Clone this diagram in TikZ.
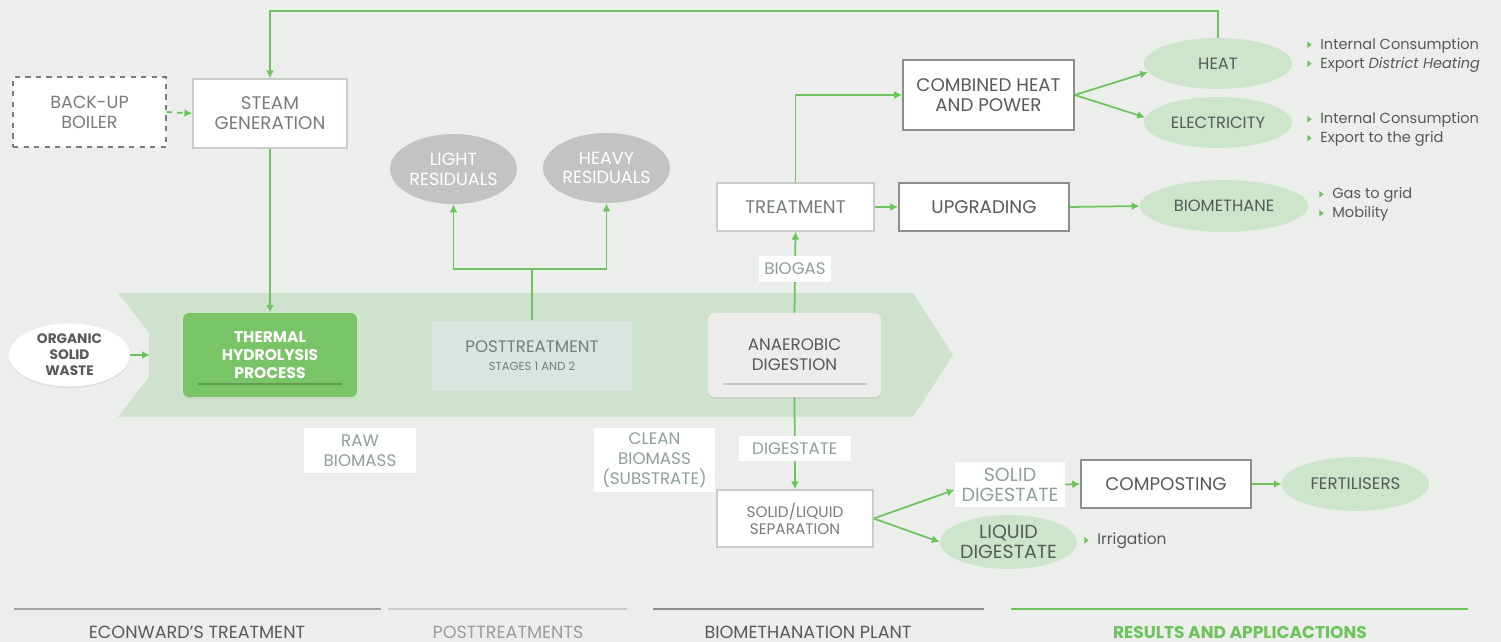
\documentclass[tikz,border=0pt]{standalone}
\usepackage{fontspec}
\setmainfont{Poppins}
\usetikzlibrary{positioning,arrows.meta,shapes.geometric,shadows}
\definecolor{bgcol}{HTML}{ECEEEB}
\definecolor{bandcol}{HTML}{CFE2CD}
\definecolor{thpcol}{HTML}{79C466}
\definecolor{thpline}{HTML}{5E9E50}
\definecolor{linkcol}{HTML}{6DC35C}
\definecolor{resgrey}{HTML}{C2C3C2}
\definecolor{outcol}{HTML}{CDE5CA}
\definecolor{txtdark}{HTML}{555B5A}
\definecolor{txtmid}{HTML}{767D7B}
\definecolor{tagcol}{HTML}{8FA097}
\definecolor{boxdark}{HTML}{8A8F8E}
\definecolor{boxlight}{HTML}{C9CBC9}
\definecolor{postcol}{HTML}{DCE4DF}
\definecolor{adcol}{HTML}{EDECEA}
\tikzset{
    >={Latex[length=4.5pt,width=4.5pt]},
    every node/.style={font=\fontsize{9.5}{11.3}\selectfont, align=center, inner sep=0pt}
}
\newcommand\bul{\tikz[baseline=0pt]\fill[linkcol] (0,0.6pt) -- (0,4.4pt) -- (2.4pt,2.5pt) -- cycle;\hspace{5pt}}

\begin{document}
\begin{tikzpicture}[x=0.02cm, y=-0.02cm,
  link/.style={->, draw=linkcol, line width=1pt},
  lightbox/.style={rectangle, draw=boxlight, fill=white, line width=0.8pt, text=txtmid, font=\fontsize{10.4}{11.3}\selectfont},
  darkbox/.style={rectangle, draw=boxdark, fill=white, line width=1pt, text=txtdark, font=\fontsize{10.4}{11.3}\selectfont},
  tag/.style={rectangle, fill=white, text=tagcol},
  residue/.style={ellipse, fill=resgrey, text=white, font=\fontsize{10}{11.3}\selectfont},
  product/.style={ellipse, fill=outcol, text=txtdark, font=\fontsize{9.3}{11}\selectfont},
  bullets/.style={anchor=west, align=left, text=txtdark, font=\fontsize{8.3}{10.8}\selectfont},
  phase/.style={font=\fontsize{10}{11}\selectfont}
]
  % background and process band
  \fill[bgcol] (0,0) rectangle (1501,642);
  \fill[bandcol] (118,293) -- (913,293) -- (953,355) -- (913,417) -- (118,417) -- (149,377) -- (149,333) -- cycle;

  % steam side
  \node[rectangle, draw=txtmid, dashed, line width=0.8pt, fill=white, text=txtmid, minimum width=3.06cm, minimum height=1.4cm, font=\fontsize{10}{11.3}\selectfont] (boiler) at (89.5,112) {BACK-UP\\BOILER};
  \node[lightbox, minimum width=3.08cm, minimum height=1.38cm] (steam) at (270,113.5) {STEAM\\GENERATION};

  % main line
  \node[ellipse, fill=white, text=txtdark, minimum width=2.42cm, minimum height=1.26cm, drop shadow={opacity=0.12, shadow xshift=0pt, shadow yshift=-1pt}, font=\fontsize{7.8}{9.2}\selectfont\bfseries] (waste) at (69.5,355) {ORGANIC\\SOLID\\WASTE};
  \coordinate (bandin) at (150,355);
  \node[rectangle, rounded corners=3.5pt, fill=thpcol, text=white, minimum width=3.48cm, minimum height=1.68cm, drop shadow={opacity=0.12, shadow xshift=0pt, shadow yshift=-1pt}, font=\fontsize{8.8}{10.4}\selectfont\bfseries] (thp) at (270,355) {THERMAL\\HYDROLYSIS\\PROCESS};
  \draw[thpline, line width=0.8pt] (198,384) -- (342,384);
  \node[rectangle, fill=postcol, text=txtmid, minimum width=4cm, minimum height=1.42cm] (post) at (532,356) {POSTTREATMENT\\[-1pt]{\fontsize{6.6}{8}\selectfont STAGES 1 AND 2}};
  \node[rectangle, rounded corners=3.5pt, fill=adcol, text=txtdark, minimum width=3.46cm, minimum height=1.68cm, drop shadow={opacity=0.12, shadow xshift=0pt, shadow yshift=-1pt}] (ad) at (794.5,355) {ANAEROBIC\\DIGESTION};
  \draw[boxlight, line width=0.6pt] (723,384) -- (867,384);

  % residuals
  \node[residue, minimum width=2.54cm, minimum height=1.4cm] (light) at (453.5,169) {LIGHT\\RESIDUALS};
  \node[residue, minimum width=2.54cm, minimum height=1.4cm] (heavy) at (606.5,168) {HEAVY\\RESIDUALS};

  % biogas route
  \node[lightbox, minimum width=3.14cm, minimum height=0.96cm] (treat) at (795.5,207) {TREATMENT};
  \node[darkbox, minimum width=3.4cm, minimum height=0.96cm] (upgr) at (984,207) {UPGRADING};
  \node[darkbox, minimum width=3.42cm, minimum height=1.4cm] (chp) at (988.5,95) {COMBINED HEAT\\AND POWER};
  \node[product, minimum width=2.96cm, minimum height=1.02cm] (heat) at (1218,63.5) {HEAT};
  \node[product, minimum width=2.96cm, minimum height=1.02cm] (elec) at (1218,122.5) {ELECTRICITY};
  \node[product, minimum width=3.36cm, minimum height=1.04cm] (biometh) at (1224,206) {BIOMETHANE};
  \node[bullets] (heatuse) at (1307,55) {\bul Internal Consumption\\\bul Export \textit{District Heating}};
  \node[bullets] (elecuse) at (1307,129.5) {\bul Internal Consumption\\\bul Export to the grid};
  \node[bullets] (methuse) at (1319,204.5) {\bul Gas to grid\\\bul Mobility};

  % digestate route
  \node[tag, minimum width=2.24cm, minimum height=0.9cm] (raw) at (360,450.5) {RAW\\BIOMASS};
  \node[tag, minimum width=2.42cm, minimum height=1.28cm] (clean) at (654.5,460) {CLEAN\\BIOMASS\\(SUBSTRATE)};
  \node[lightbox, minimum width=3.12cm, minimum height=1.14cm, font=\fontsize{8.7}{9.6}\selectfont] (sep) at (795,518.5) {SOLID/LIQUID\\SEPARATION};
  \node[tag, minimum width=2.2cm, minimum height=0.9cm, font=\fontsize{10.8}{11.3}\selectfont] (soliddig) at (1010,484.5) {SOLID\\DIGESTATE};
  \node[product, minimum width=2.7cm, minimum height=1.08cm, font=\fontsize{10.8}{11.3}\selectfont] (liqdig) at (1008.5,542) {LIQUID\\DIGESTATE};
  \node[darkbox, minimum width=3.4cm, minimum height=0.96cm] (compost) at (1166,484) {COMPOSTING};
  \node[product, minimum width=2.94cm, minimum height=1.08cm, font=\fontsize{9.5}{11}\selectfont] (fert) at (1355.5,484) {FERTILISERS};
  \node[bullets, font=\fontsize{8.8}{10.8}\selectfont] (irrig) at (1084,541) {\bul Irrigation};

  % connectors
  \coordinate (topbend) at (270,11);
  \draw[link] (heat.north) |- (topbend) -- (steam.north);
  \draw[link, dashed] (boiler.east) -- (steam.west);
  \draw[link] (steam.south) -- (thp.north);
  \draw[link] (waste.east) -- (bandin);
  \draw[link] (post.north) -- ++(0,-51) -| (light.south);
  \draw[link] (post.north) -- ++(0,-51) -| (heavy.south);
  \draw[link] (ad.north) -- node[tag, pos=0.54, minimum width=1.44cm, minimum height=0.52cm] (biogas) {BIOGAS} (treat.south);
  \draw[link] (treat.north) |- (chp.west);
  \draw[link] (treat.east) -- (upgr.west);
  \draw[link] (chp.east) -- (heat.187);
  \draw[link] (chp.east) -- (elec.176);
  \draw[link] (upgr.east) -- (biometh.west);
  \draw[link] (ad.south) -- node[tag, pos=0.56, minimum width=2.24cm, minimum height=0.5cm] (digest) {DIGESTATE} (sep.north);
  \draw[link] (sep.east) -- ([yshift=-3pt]soliddig.west);
  \draw[link] (sep.east) -- (liqdig.west);
  \draw[link] (soliddig.east) -- (compost.west);
  \draw[link] (compost.east) -- (fert.west);

  % phases
  \draw[line width=1pt, draw=boxdark!80] (14,609) -- (381,609);
  \draw[line width=1pt, draw=boxlight] (388,609) -- (627,609);
  \draw[line width=1pt, draw=boxdark] (653,609) -- (984,609);
  \draw[line width=1pt, draw=linkcol] (1011,609) -- (1468,609);
  \node[phase, text=txtdark] (ph1) at (197,632) {ECONWARD'S TREATMENT};
  \node[phase, text=resgrey!80!black] (ph2) at (508,632) {POSTTREATMENTS};
  \node[phase, text=txtdark] (ph3) at (808,632) {BIOMETHANATION PLANT};
  \node[phase, text=linkcol, font=\fontsize{9.7}{11}\selectfont\bfseries] (ph4) at (1240,632) {RESULTS AND APPLICACTIONS};
\end{tikzpicture}
\end{document}
